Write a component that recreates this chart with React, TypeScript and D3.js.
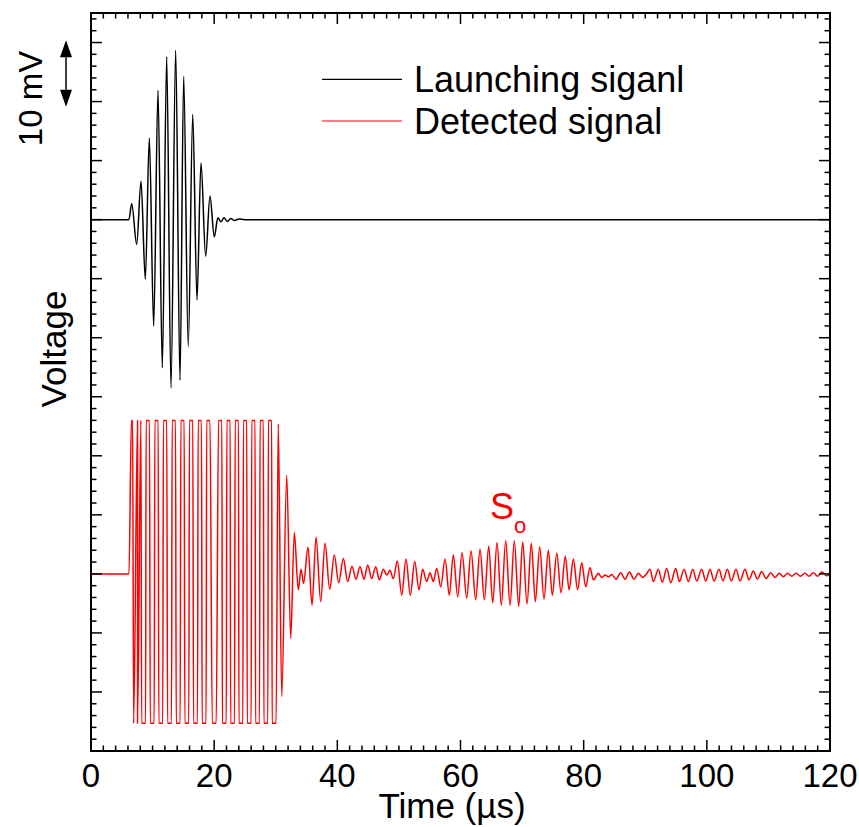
import * as d3 from 'd3';

// Axis ticks and legend
const TIME_TICKS = [0, 20, 40, 60, 80, 100, 120];
const TIME_MINOR_STEP = 2;
const VOLT_MAJOR_STEP = 10;
const VOLT_MINOR_STEP = 2;
const LEGEND_LABELS = ['Launching siganl', 'Detected signal'];
const LEGEND_COLORS = ['#000000', '#ff0000'];

// Launching signal: [time µs, mV] (baseline 0 mV), extrema of the burst
const LAUNCH: [number, number][] = [
  [0, 0], [6.15, 0],
  [6.61, 2.7], [7.42, -4.2], [8.12, 6.5], [8.82, -10.1], [9.47, 13.8], [10.18, -18.0],
  [10.88, 21.9], [11.58, -25.1], [12.29, 27.6], [12.99, -28.5], [13.75, 28.7], [14.45, -27.2],
  [15.05, 24.3], [15.79, -21.5], [16.52, 17.8], [17.21, -13.6], [17.86, 9.6], [18.62, -6.2],
  [19.32, 4.0], [20.02, -2.9], [20.6, 0.3], [21.1, -0.35], [21.6, 0.3], [22.15, -0.3],
  [22.7, 0.2], [23.3, -0.15], [24.0, 0.1], [25.0, 0], [120, 0],
];

// Detected signal (baseline -60 mV): saturated part, crest / trough centres (µs)
const CLIP_TOP = -34;
const CLIP_BOTTOM = -85.3;
const CLIP_CRESTS = [6.66, 7.83, 9.22, 10.64, 12.03, 13.45, 14.86, 16.26, 17.67, 19.05,
  20.98, 22.33, 23.68, 25.02, 26.37, 27.72, 29.07];
const CLIP_TROUGHS = [7.24, 8.54, 9.94, 11.33, 12.75, 14.16, 15.56, 16.97, 18.37, 20.01,
  21.65, 22.99, 24.34, 25.69, 27.04, 28.39, 29.73];
const CREST_HALF = 0.27;
const TROUGH_HALF = 0.32;

const DETECT_ONSET: [number, number][] = [[0, -60], [6.17, -60]];
const DETECT_TAIL: [number, number][] = [
  [30.40, -34.6], [30.97, -80.8], [31.78, -43.3], [32.43, -70.9], [33.01, -53.0], [33.66, -62.7],
  [34.10, -59.2], [34.51, -61.6], [35.24, -55.5], [35.89, -65.3], [36.54, -53.8], [37.30, -64.7],
  [38.00, -54.8], [38.76, -62.6], [39.51, -56.8], [40.22, -61.5], [40.97, -57.4], [41.68, -61.3],
  [42.38, -58.7], [43.03, -60.9], [43.68, -58.8], [44.33, -60.9], [44.93, -58.5], [45.58, -60.8],
  [46.23, -58.8], [46.82, -61.0], [47.47, -59.2], [48.02, -60.2], [48.55, -59.4], [49.09, -60.8],
  [49.74, -57.8], [50.46, -63.6], [51.15, -57.5], [51.85, -63.6], [52.57, -57.9], [53.26, -62.7],
  [53.86, -59.2], [54.51, -61.3], [55.05, -59.8], [55.59, -61.3], [56.14, -59.1], [56.79, -62.2],
  [57.49, -57.5], [58.18, -63.6], [58.83, -56.8], [59.55, -63.9], [60.25, -56.4], [61.01, -64.1],
  [61.71, -56.1], [62.47, -64.4], [63.17, -55.8], [63.87, -64.4], [64.58, -55.3], [65.23, -64.9],
  [65.93, -54.7], [66.63, -65.3], [67.34, -54.4], [68.04, -65.3], [68.74, -54.4], [69.45, -65.5],
  [70.10, -54.6], [70.80, -65.1], [71.50, -54.8], [72.15, -64.7], [72.86, -55.4], [73.56, -64.3],
  [74.26, -56.0], [74.91, -63.6], [75.63, -56.5], [76.32, -63.2], [77.02, -57.0], [77.63, -62.7],
  [78.33, -57.5], [79.01, -62.7], [79.68, -58.1], [80.33, -62.2], [81.03, -58.9], [81.57, -61.0],
  [82.38, -59.9], [82.93, -60.6], [83.47, -60.2], [84.01, -60.5], [84.55, -60.1], [85.26, -60.9],
  [86.02, -59.8], [86.72, -60.9], [87.42, -59.7], [88.18, -60.9], [88.88, -59.9], [89.59, -60.6],
  [90.20, -60.0], [90.78, -59.2], [91.31, -61.3], [92.12, -59.2], [92.77, -61.4], [93.49, -59.1],
  [94.14, -61.5], [94.95, -59.1], [95.54, -61.3], [96.30, -59.2], [97.00, -61.3], [97.71, -59.2],
  [98.36, -61.2], [99.17, -59.2], [99.82, -61.2], [100.52, -59.2], [101.17, -61.2], [101.98, -59.2],
  [102.63, -61.2], [103.33, -59.2], [103.98, -61.2], [104.74, -59.2], [105.39, -61.2], [106.20, -59.2],
  [106.85, -61.0], [107.55, -59.5], [108.20, -60.9], [108.91, -59.6], [109.61, -60.8], [110.38, -59.8],
  [111.07, -60.6], [111.77, -59.9], [112.42, -60.5], [113.1, -59.9], [113.8, -60.4], [114.5, -59.9],
  [115.2, -60.4], [115.9, -59.9], [116.6, -60.4], [117.3, -59.8], [118.0, -60.4], [118.7, -59.7],
  [119.4, -60.3], [120, -60.1],
];

// Annotations (data units)
const SCALE_BAR: [number, number] = [30.4, 19.1];
const SO_POS: [number, number] = [64.8, -50.7];

const W = 859;
const H = 827;
const M = { left: 91, right: 29, top: 13, bottom: 76 };
const FONT = '"Liberation Sans", Arial, Helvetica, sans-serif';

function buildDetected(): [number, number][] {
  const plateau: [number, number][] = [];
  CLIP_CRESTS.forEach((t, i) => {
    const h = i === 0 ? 0.1 : CREST_HALF;
    plateau.push([t - h, CLIP_TOP], [t + h, CLIP_TOP]);
  });
  CLIP_TROUGHS.forEach(t => {
    plateau.push([t - TROUGH_HALF, CLIP_BOTTOM], [t + TROUGH_HALF, CLIP_BOTTOM]);
  });
  plateau.sort((a, b) => a[0] - b[0]);
  return [...DETECT_ONSET, ...plateau, ...DETECT_TAIL];
}

export default function App() {
  const x = d3.scaleLinear().domain([0, 120]).range([M.left, W - M.right]);
  const y = d3.scaleLinear().domain([-90, 35]).range([H - M.bottom, M.top]);

  const line = d3.line<[number, number]>()
    .x(d => x(d[0]))
    .y(d => y(d[1]))
    .curve(d3.curveMonotoneX);

  const x0 = x.range()[0], x1 = x.range()[1];
  const y0 = y.range()[0], y1 = y.range()[1];
  const majorLen = 11, minorLen = 5.5;

  const xMinor = d3.range(0, 120 + 0.001, TIME_MINOR_STEP);
  const yMinor = d3.range(-90, 35 + 0.001, VOLT_MINOR_STEP);
  const isMajorX = (t: number) => TIME_TICKS.includes(t);
  const isMajorY = (v: number) => Math.abs(v % VOLT_MAJOR_STEP) < 1e-6;

  const arrowX = 66;
  const aTop = y(SCALE_BAR[0]);
  const aBot = y(SCALE_BAR[1]);
  const head = 17, hw = 6;

  return (
    <svg width={W} height={H} style={{ position: 'absolute', left: 0, top: 0, background: '#fff' }}
      fontFamily={FONT}>
      <rect width={W} height={H} fill="#fff" />

      {/* signals */}
      <path d={line(LAUNCH) || ''} fill="none" stroke="#000" strokeWidth={1.5} />
      <path d={line(buildDetected()) || ''} fill="none" stroke="#ff0000" strokeWidth={1.5} />

      {/* ticks */}
      <g stroke="#000" strokeWidth={1.5}>
        {xMinor.map(t => {
          const len = isMajorX(t) ? majorLen : minorLen;
          return (
            <g key={'x' + t}>
              <line x1={x(t)} x2={x(t)} y1={y0} y2={y0 - len} />
              <line x1={x(t)} x2={x(t)} y1={y1} y2={y1 + len} />
            </g>
          );
        })}
        {yMinor.map(v => {
          const len = isMajorY(v) ? majorLen : minorLen;
          return (
            <g key={'y' + v}>
              <line x1={x0} x2={x0 + len} y1={y(v)} y2={y(v)} />
              <line x1={x1} x2={x1 - len} y1={y(v)} y2={y(v)} />
            </g>
          );
        })}
      </g>
      <rect x={x0} y={y1} width={x1 - x0} height={y0 - y1} fill="none" stroke="#000" strokeWidth={2} />

      {/* x tick labels */}
      {TIME_TICKS.map(t => (
        <text key={'xl' + t} x={x(t)} y={787} textAnchor="middle" fontSize={33} fill="#000">{t}</text>
      ))}
      <text x={452} y={818} textAnchor="middle" fontSize={35} fill="#000">Time (µs)</text>

      {/* y title */}
      <text transform="translate(66,349) rotate(-90)" textAnchor="middle" fontSize={35} fill="#000">Voltage</text>
      <text transform="translate(42,98.5) rotate(-90)" textAnchor="middle" fontSize={33} fill="#000">10 mV</text>

      {/* scale arrow */}
      <line x1={arrowX} x2={arrowX} y1={aTop + head} y2={aBot - head} stroke="#000" strokeWidth={1.5} />
      <path d={`M${arrowX},${aTop} L${arrowX - hw},${aTop + head} L${arrowX + hw},${aTop + head} Z`} fill="#000" />
      <path d={`M${arrowX},${aBot} L${arrowX - hw},${aBot - head} L${arrowX + hw},${aBot - head} Z`} fill="#000" />

      {/* legend */}
      {LEGEND_LABELS.map((label, i) => (
        <g key={label} transform={`translate(0,${79.3 + i * 41.7})`}>
          <line x1={322} x2={402} y1={0} y2={0} stroke={LEGEND_COLORS[i]} strokeWidth={1.2} />
          <text x={414} y={13} fontSize={36} fill="#000">{label}</text>
        </g>
      ))}

      {/* S0 label */}
      <text x={x(SO_POS[0])} y={y(SO_POS[1])} fontSize={36} fill="#ff0000">
        S<tspan fontSize={22} dy={14}>o</tspan>
      </text>
    </svg>
  );
}
